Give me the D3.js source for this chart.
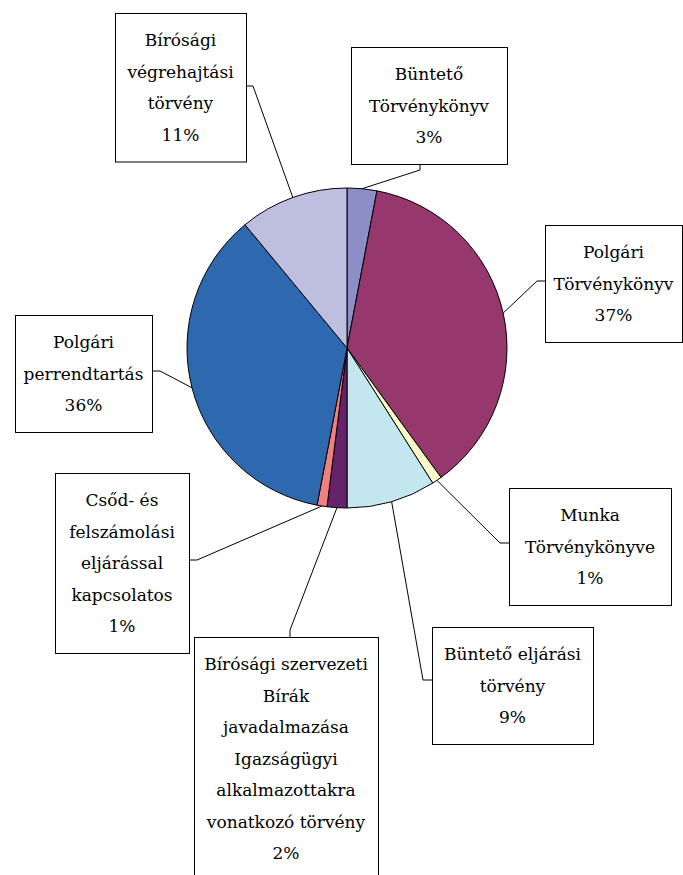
<!DOCTYPE html>
<html>
<head>
<meta charset="utf-8">
<script src="https://cdn.jsdelivr.net/npm/d3@7"></script>
<style>
  body { margin: 0; background: #fff; }
  svg { display: block; }
  .label text { font-family: "DejaVu Serif", "Liberation Serif", serif; }
</style>
</head>
<body>
<div id="chart"></div>
<script>
// data (clockwise from 12 o'clock)
var categories = [
  ["Büntető", "Törvénykönyv"],
  ["Polgári", "Törvénykönyv"],
  ["Munka", "Törvénykönyve"],
  ["Büntető eljárási", "törvény"],
  ["Bírósági szervezeti", "Bírák", "javadalmazása", "Igazságügyi", "alkalmazottakra", "vonatkozó törvény"],
  ["Csőd- és", "felszámolási", "eljárással", "kapcsolatos"],
  ["Polgári", "perrendtartás"],
  ["Bírósági", "végrehajtási", "törvény"]
];
var values = [3, 37, 1, 9, 2, 1, 36, 11];
var colors = ["#8b8fc6", "#96386e", "#fafac8", "#c3e6ef", "#66226a", "#f08080", "#2e69b0", "#bebede"];

// label boxes: x, y, width, elbow point of leader, attach point on the box
var labelLayout = [
  { x: 351, y: 47,  w: 156, elbow: [420, 170], attach: [420, 163] },
  { x: 545, y: 225, w: 137, elbow: [537, 281], attach: [545, 281] },
  { x: 509, y: 488, w: 162, elbow: [500, 543], attach: [509, 543] },
  { x: 432, y: 627, w: 161, elbow: [423, 680], attach: [432, 680] },
  { x: 194, y: 637, w: 184, elbow: [290, 630], attach: [290, 637] },
  { x: 55,  y: 473, w: 134, elbow: [197, 560], attach: [189, 560] },
  { x: 15,  y: 315, w: 137, elbow: [160, 371], attach: [152, 371] },
  { x: 115, y: 13,  w: 131, elbow: [253, 86],  attach: [246, 86] }
];

var svgWidth = 683;
var svgHeight = 875;
var cx = 347, cy = 348, radius = 160;
var fontSize = 17, lineGap = 31.5, pad = 27;

var svg = d3.select("#chart")
  .append("svg")
  .attr("width", svgWidth)
  .attr("height", svgHeight);

var total = d3.sum(values);
var data = values.map(function(v, i) {
  return { value: v, lines: categories[i], color: colors[i], layout: labelLayout[i] };
});

var pie = d3.pie()
  .value(function(d) { return d.value; })
  .sort(null)
  .startAngle(0)
  .endAngle(2 * Math.PI);

var arc = d3.arc().innerRadius(0).outerRadius(radius);
var edgeArc = d3.arc().innerRadius(radius).outerRadius(radius);

var arcs = pie(data);

var pieGroup = svg.append("g")
  .attr("transform", `translate(${cx}, ${cy})`);

pieGroup.selectAll("path.slice")
  .data(arcs)
  .enter()
  .append("path")
  .attr("class", "slice")
  .attr("d", arc)
  .attr("fill", d => d.data.color)
  .attr("stroke", "#000")
  .attr("stroke-width", 1)
  .attr("stroke-linejoin", "round");

// leader lines
svg.selectAll("polyline.leader")
  .data(arcs)
  .enter()
  .append("polyline")
  .attr("class", "leader")
  .attr("points", function(d) {
    var c = edgeArc.centroid(d);
    var L = d.data.layout;
    return [[cx + c[0], cy + c[1]], L.elbow, L.attach].map(p => p.join(",")).join(" ");
  })
  .attr("fill", "none")
  .attr("stroke", "#000")
  .attr("stroke-width", 1);

// label boxes
var labels = svg.selectAll("g.label")
  .data(arcs)
  .enter()
  .append("g")
  .attr("class", "label");

labels.each(function(d) {
  var g = d3.select(this);
  var L = d.data.layout;
  var lines = d.data.lines.concat([Math.round(d.data.value / total * 100) + "%"]);
  var h = pad * 2 + (lines.length - 1) * lineGap;

  g.append("rect")
    .attr("x", L.x + 0.5)
    .attr("y", L.y + 0.5)
    .attr("width", L.w)
    .attr("height", h)
    .attr("fill", "#fff")
    .attr("stroke", "#000")
    .attr("stroke-width", 1);

  g.selectAll("text")
    .data(lines)
    .enter()
    .append("text")
    .attr("x", L.x + L.w / 2)
    .attr("y", (t, i) => L.y + pad + i * lineGap + 6)
    .attr("text-anchor", "middle")
    .attr("font-size", fontSize)
    .attr("fill", "#000")
    .text(t => t);
});
</script>
</body>
</html>
